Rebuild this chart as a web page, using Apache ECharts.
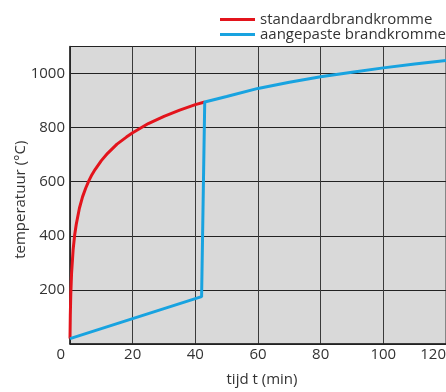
<!DOCTYPE html>
<html>
<head>
<meta charset="utf-8">
<script src="https://cdn.jsdelivr.net/npm/echarts@6/dist/echarts.min.js"></script>
<style>html,body{margin:0;padding:0;background:#fff}#c{width:446px;height:392px}</style>
</head>
<body>
<div id="c"></div>
<script>
// Data
const stdTime = [0, 0.1, 0.25, 0.5, 1, 1.5, 2, 3, 4, 5, 6, 7, 8, 10, 12, 15, 18, 20, 25, 30, 35, 40, 43];
const stdTemp = [20, 108, 185, 261, 349, 404, 443, 502, 544, 576, 603, 626, 645, 678, 705, 739, 765, 781, 815, 842, 865, 885, 895];
const adjTime = [0, 42, 43, 50, 60, 70, 80, 90, 100, 110, 120];
const adjTemp = [20, 175, 895, 915, 945, 968, 988, 1005, 1021, 1035, 1048];
const seriesNames = ['standaardbrandkromme', 'aangepaste brandkromme'];
const xTicks = [0, 20, 40, 60, 80, 100, 120];
const yTicks = [0, 200, 400, 600, 800, 1000];

const FONT = 'Open Sans';
const chart = echarts.init(document.getElementById('c'), null, {renderer: 'canvas'});
chart.setOption({
  animation: false,
  textStyle: {fontFamily: FONT},
  legend: {
    orient: 'vertical', left: 220, top: 12, itemWidth: 35, itemHeight: 3, itemGap: 0, padding: 0,
    icon: 'rect',
    textStyle: {fontFamily: FONT, fontSize: 15, color: '#333', lineHeight: 15},
    data: seriesNames
  },
  grid: {left: 70, right: 0, top: 46.5, bottom: 48, show: true, backgroundColor: '#d9d9d9', borderColor: '#333', borderWidth: 1,
    containLabel: false, outerBoundsMode: 'none'},
  xAxis: {
    type: 'value', min: 0, max: 120, interval: 20,
    name: 'tijd t (min)', nameLocation: 'middle', nameGap: 28, nameMoveOverlap: false,
    nameTextStyle: {fontFamily: FONT, fontSize: 15, color: '#333', padding: [0, 0, 0, 8]},
    axisLine: {show: true, lineStyle: {color: '#222', width: 1.5}},
    axisTick: {show: false},
    splitLine: {show: true, lineStyle: {color: '#3a3a3a', width: 1}},
    axisLabel: {
      margin: 3, fontSize: 15, color: '#333', fontFamily: FONT,
      alignMinLabel: 'right', alignMaxLabel: 'right',
      formatter: v => xTicks.indexOf(v) === 0 ? '{z|' + v + '}' : String(v),
      rich: {z: {fontSize: 15, color: '#333', fontFamily: FONT, padding: [0, 5, 0, 0]}}
    }
  },
  yAxis: {
    type: 'value', min: 0, max: 1100, interval: 200,
    name: 'temperatuur (°C)', nameLocation: 'middle', nameGap: 42, nameMoveOverlap: false,
    nameTextStyle: {fontFamily: FONT, fontSize: 15, color: '#333', padding: [0, 9, 0, 0]},
    axisLine: {show: true, lineStyle: {color: '#222', width: 1.5}},
    axisTick: {show: false},
    splitLine: {show: true, lineStyle: {color: '#222', width: 1}},
    axisLabel: {
      margin: 5, fontSize: 15, color: '#333', fontFamily: FONT,
      showMinLabel: false, showMaxLabel: false,
      formatter: v => yTicks.indexOf(v) >= 0 ? String(v) : ''
    }
  },
  series: [
    {
      name: seriesNames[0], type: 'line', symbol: 'none', z: 3,
      lineStyle: {color: '#e3141c', width: 3},
      itemStyle: {color: '#e3141c'},
      data: stdTime.map((t, i) => [t, stdTemp[i]])
    },
    {
      name: seriesNames[1], type: 'line', symbol: 'none', z: 4,
      lineStyle: {color: '#18a3e0', width: 3},
      itemStyle: {color: '#18a3e0'},
      data: adjTime.map((t, i) => [t, adjTemp[i]])
    }
  ]
});
</script>
</body>
</html>
